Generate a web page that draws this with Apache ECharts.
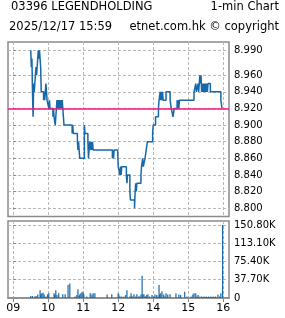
<!DOCTYPE html>
<html><head><meta charset="utf-8">
<script src="https://cdn.jsdelivr.net/npm/echarts@6/dist/echarts.min.js"></script>
<style>html,body{margin:0;padding:0;background:#fff}#c{width:285px;height:318px}</style>
</head><body><div id="c"></div>
<script>
const titleLeft = '03396 LEGENDHOLDING';
const titleRight = '1-min Chart';
const subLeft = '2025/12/17 15:59';
const subRight = 'etnet.com.hk \u00a9 copyright';

const prevClose = 8.92;
const hourTicks = ['09:00','10:00','11:00','12:00','14:00','15:00','16:00'];
const hourLabels = ['09','10','11','12','14','15','16'];
const priceTicks = [8.80, 8.82, 8.84, 8.86, 8.88, 8.90, 8.92, 8.94, 8.96, 8.99];
const volTicks = [0, 37.7, 75.4, 113.1, 150.8];

const priceTimes = ['09:30','09:31','09:32','09:33','09:34','09:35','09:36','09:37','09:38','09:39','09:40','09:41','09:42','09:43','09:44','09:45','09:46','09:47','09:48','09:52','09:53','09:54','09:55','09:56','09:57','09:58','10:01','10:02','10:03','10:08','10:09','10:10','10:12','10:13','10:14','10:15','10:16','10:17','10:18','10:19','10:20','10:22','10:23','10:24','10:27','10:41','10:42','10:43','10:50','10:51','10:52','10:53','10:54','11:02','11:03','11:08','11:09','11:11','11:13','11:14','11:15','11:16','11:17','11:50','11:51','11:52','11:53','11:59',
'13:00','13:01','13:03','13:04','13:05','13:06','13:14','13:15','13:16','13:20','13:21','13:28','13:29','13:30','13:31','13:32','13:39','13:40','13:42','13:43','13:46','13:48','13:50','13:59','14:00','14:04','14:09','14:10','14:12','14:13','14:14','14:15','14:16','14:17','14:22','14:29','14:31','14:34','14:36','14:41','14:42','14:43','14:44','14:45','15:10','15:13','15:14','15:17','15:18','15:20','15:21','15:22','15:23','15:24','15:25','15:26','15:27','15:28','15:29','15:30','15:31','15:32','15:33','15:34','15:38','15:56','15:58','15:59'];
const priceValues = [8.99,8.97,8.98,8.94,8.91,8.95,8.94,8.95,8.96,8.97,8.96,8.97,8.98,8.99,8.98,8.99,8.98,8.97,8.94,8.93,8.94,8.93,8.94,8.95,8.94,8.93,8.92,8.93,8.92,8.91,8.92,8.91,8.90,8.91,8.92,8.93,8.92,8.93,8.92,8.93,8.92,8.93,8.92,8.93,8.90,8.89,8.90,8.89,8.88,8.87,8.88,8.87,8.86,8.90,8.89,8.88,8.86,8.88,8.87,8.88,8.87,8.88,8.87,8.86,8.87,8.86,8.87,8.87,
8.85,8.85,8.84,8.85,8.84,8.85,8.84,8.83,8.84,8.82,8.81,8.80,8.82,8.83,8.82,8.83,8.84,8.85,8.86,8.85,8.86,8.87,8.88,8.89,8.90,8.91,8.92,8.93,8.94,8.93,8.94,8.93,8.94,8.93,8.94,8.93,8.92,8.91,8.92,8.93,8.92,8.93,8.92,8.93,8.94,8.95,8.94,8.95,8.94,8.96,8.95,8.96,8.94,8.95,8.94,8.95,8.94,8.95,8.94,8.95,8.94,8.95,8.94,8.95,8.94,8.93,8.92,8.92];

const volTimes = ['09:30','09:33','09:37','09:39','09:42','09:46','09:47','09:49','09:51','09:53','09:56','09:59','10:01','10:10','10:11','10:13','10:15','10:18','10:25','10:29','10:34','10:37','10:46','10:49','10:51','10:53','10:54','10:56','10:58','11:00','11:01','11:06','11:12','11:15','11:17','11:20','11:41','11:49',
'13:00','13:01','13:03','13:06','13:10','13:13','13:15','13:20','13:22','13:23','13:25','13:27','13:30','13:32','13:35','13:37','13:39','13:41','13:42','13:44','13:46','13:47','13:49','13:51','13:54','13:58','14:01','14:03','14:06','14:08','14:10','14:11','14:13','14:15','14:18','14:20','14:22','14:25','14:29','14:39','14:44','14:47','14:54','14:58','15:05','15:08','15:10','15:13','15:15','15:17','15:20','15:23','15:25','15:27','15:29','15:31','15:33','15:35','15:37','15:39','15:41','15:43','15:45','15:47','15:51','15:54','15:56','15:59'];
const volValues = [4,4,3,4,7,16,8,10,11,7,3,8,10,10,6,16,6,10,8,8,27,30,3,6,18,4,7,10,13,11,8,3,10,7,10,10,7,8,
10,7,3,3,3,6,16,3,10,3,3,8,3,8,3,3,7,46,7,8,3,3,6,8,3,6,3,7,6,3,27,7,10,14,7,3,10,7,8,10,7,6,13,3,3,7,10,10,3,6,3,3,2,3,2,3,2,3,2,3,2,3,2,3,7,3,10,150.8];

// trading-time axis: minutes from 09:00 with the lunch break (12:00-13:00) removed
function tradeMin(t) {
  const p = t.split(':'); const h = +p[0], m = +p[1];
  let v = h * 60 + m - 540;
  if (h >= 13) v -= 60;
  return v;
}
const hourTickVals = hourTicks.map(tradeMin);
const labelMap = {};
hourTickVals.forEach((v, i) => { labelMap[v] = hourLabels[i]; });

const LINE = '#1768a8';
const GRID = '#b8b8b8';
const BORDER = '#8a8a8a';
const FONT = 'DejaVu Sans';
const HFONT = '11.5px "' + FONT + '"';

const chart = echarts.init(document.getElementById('c'), null, {renderer: 'canvas'});
const xBase = {
  type: 'value', min: -9, max: 370,
  axisLine: {show: false},
  splitLine: {show: true, lineStyle: {color: GRID, type: [3, 2], width: 1}},
  axisTick: {show: false, customValues: hourTickVals},
  axisLabel: {show: false, customValues: hourTickVals}
};
chart.setOption({
  animation: false,
  backgroundColor: '#fff',
  graphic: [
    {type: 'text', left: 11, top: 1, style: {text: titleLeft, font: HFONT, fill: '#000'}},
    {type: 'text', right: 6, top: 1, style: {text: titleRight, font: HFONT, fill: '#000'}},
    {type: 'text', left: 9, top: 21, style: {text: subLeft, font: HFONT, fill: '#000'}},
    {type: 'text', right: 6, top: 21, style: {text: subRight, font: HFONT, fill: '#000'}}
  ],
  grid: [
    {left: 8, top: 42, right: 56, bottom: 101.5, show: true, borderColor: BORDER, borderWidth: 1.5, backgroundColor: 'transparent'},
    {left: 8, top: 221, right: 56, bottom: 20, show: true, borderColor: BORDER, borderWidth: 1.5, backgroundColor: 'transparent'}
  ],
  xAxis: [
    Object.assign({}, xBase, {gridIndex: 0}),
    Object.assign({}, xBase, {
      gridIndex: 1,
      axisLine: {show: true, lineStyle: {color: BORDER, width: 1.5}},
      axisTick: {show: true, customValues: hourTickVals, length: 4, lineStyle: {color: BORDER}},
      axisLabel: {show: true, customValues: hourTickVals, margin: 5, color: '#000',
        fontFamily: FONT, fontSize: 11, formatter: v => labelMap[v] || ''}
    })
  ],
  yAxis: [
    {type: 'value', gridIndex: 0, position: 'right', min: 8.79, max: 9.0, scale: true,
      axisLine: {show: false},
      splitLine: {show: true, lineStyle: {color: GRID, type: [3, 2], width: 1}},
      axisTick: {show: true, customValues: priceTicks, length: 3, lineStyle: {color: BORDER}},
      axisLabel: {show: true, customValues: priceTicks, margin: 5, color: '#000',
        fontFamily: FONT, fontSize: 10, formatter: v => v.toFixed(3)}},
    {type: 'value', gridIndex: 1, position: 'right', min: 0, max: 159,
      axisLine: {show: false},
      splitLine: {show: true, lineStyle: {color: GRID, type: [3, 2], width: 1}},
      axisTick: {show: true, customValues: volTicks, length: 3, lineStyle: {color: BORDER}},
      axisLabel: {show: true, customValues: volTicks, margin: 5, color: '#000',
        fontFamily: FONT, fontSize: 10, formatter: v => v === 0 ? '0' : v.toFixed(2) + 'K'}}
  ],
  series: [
    {type: 'line', xAxisIndex: 0, yAxisIndex: 0, step: 'end', showSymbol: false,
      lineStyle: {color: LINE, width: 1.5}, itemStyle: {color: LINE},
      data: priceTimes.map((t, i) => [tradeMin(t), priceValues[i]]),
      markLine: {silent: true, symbol: 'none', label: {show: false},
        lineStyle: {color: '#ff1080', width: 1.5, type: 'solid'},
        data: [{yAxis: prevClose}]},
      z: 3},
    {type: 'bar', xAxisIndex: 1, yAxisIndex: 1, barWidth: 1.2,
      itemStyle: {color: LINE},
      data: volTimes.map((t, i) => [tradeMin(t), volValues[i]])}
  ]
});
</script></body></html>
